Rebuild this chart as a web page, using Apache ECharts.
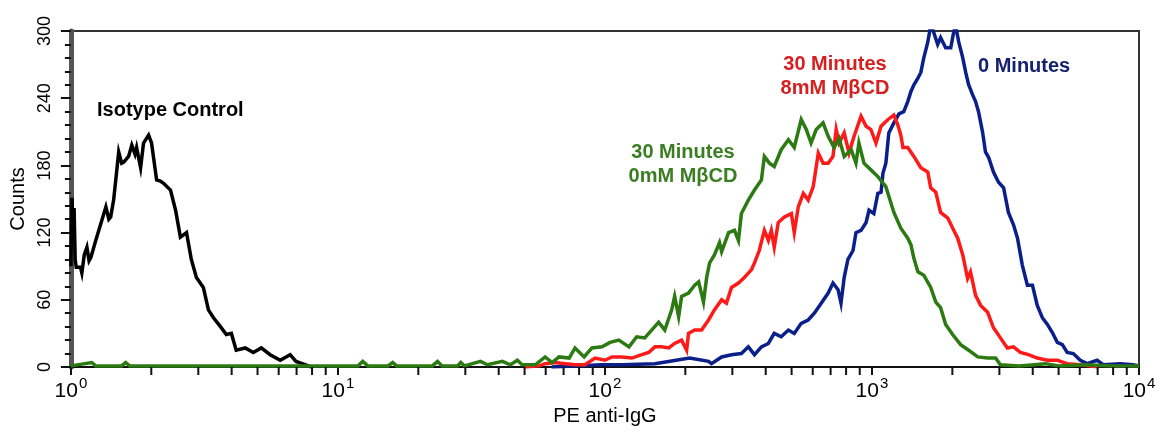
<!DOCTYPE html>
<html>
<head>
<meta charset="utf-8">
<script src="https://cdn.jsdelivr.net/npm/echarts@6/dist/echarts.min.js"></script>
<style>
html,body{margin:0;padding:0;background:#fff;}
#chart{width:1161px;height:433px;}
</style>
</head>
<body>
<div id="chart"></div>
<script>
// ---- Data (x stored as log10 of PE intensity, y as event counts) ----
const majorTicks = [1, 10, 100, 1000, 10000];
const minorMultipliers = [2, 3, 4, 5, 6, 7, 8, 9];
const yTicks = [0, 60, 120, 180, 240, 300];

const isoLog = [0.000,0.004,0.008,0.012,0.016,0.020,0.036,0.041,0.050,0.060,0.068,0.075,0.093,0.112,0.131,0.142,0.149,0.160,0.172,0.179,0.190,0.198,0.216,0.228,0.240,0.246,0.261,0.272,0.291,0.302,0.321,0.335,0.347,0.373,0.392,0.410,0.433,0.451,0.470,0.496,0.515,0.534,0.560,0.582,0.601,0.619,0.653,0.683,0.713,0.746,0.784,0.821,0.843,0.866,0.900];
const isoCounts = [90,151,118,142,96,89,89,84,100,107,95,98,113,128,143,132,134,149,176,192,182,183,188,198,190,196,178,200,207,200,167,166,164,158,140,116,120,96,80,71,51,44,36,29,30,15,17,13,17,11,6,11,5,3,0];

const min0Log = [1.800,1.989,2.063,2.187,2.317,2.388,2.399,2.437,2.474,2.511,2.537,2.560,2.586,2.612,2.634,2.660,2.687,2.709,2.735,2.761,2.784,2.810,2.836,2.854,2.873,2.884,2.896,2.910,2.929,2.940,2.959,2.978,2.989,3.007,3.022,3.034,3.041,3.052,3.063,3.082,3.101,3.119,3.134,3.146,3.157,3.172,3.183,3.194,3.209,3.220,3.231,3.246,3.257,3.276,3.295,3.306,3.313,3.325,3.340,3.351,3.362,3.377,3.388,3.399,3.414,3.425,3.437,3.455,3.474,3.493,3.511,3.530,3.545,3.563,3.582,3.601,3.619,3.638,3.657,3.675,3.694,3.713,3.731,3.754,3.780,3.806,3.843,3.866,3.929,3.978,4.000];
const min0Counts = [0,2,2,3,8,5,3,9,11,12,18,11,18,21,30,27,33,30,39,42,48,57,66,75,69,57,80,96,104,120,122,129,140,137,155,156,173,182,209,218,226,228,237,246,252,258,263,276,290,305,299,288,294,285,285,299,305,290,276,263,252,243,237,228,210,192,187,174,165,160,138,127,115,91,73,73,55,44,38,31,22,20,13,12,6,3,6,2,3,2,1];

const mbcd8Log = [1.700,1.754,1.776,1.813,1.851,1.888,1.925,1.963,2.000,2.026,2.063,2.101,2.138,2.164,2.187,2.213,2.239,2.261,2.287,2.306,2.313,2.336,2.362,2.388,2.410,2.437,2.455,2.474,2.500,2.522,2.549,2.560,2.578,2.597,2.612,2.623,2.634,2.649,2.672,2.698,2.709,2.724,2.743,2.761,2.780,2.799,2.817,2.836,2.854,2.866,2.877,2.896,2.914,2.933,2.959,2.978,2.996,3.015,3.034,3.060,3.082,3.097,3.108,3.116,3.134,3.157,3.183,3.209,3.220,3.239,3.257,3.284,3.302,3.321,3.340,3.358,3.369,3.388,3.407,3.433,3.455,3.481,3.507,3.530,3.556,3.586,3.619,3.657,3.694,3.731,3.780,3.850];
const mbcd8Counts = [0,1,3,4,3,2,2,8,6,9,9,8,11,13,18,18,17,21,24,15,30,33,33,42,51,60,57,71,75,80,87,93,104,122,113,122,107,129,134,137,120,143,155,149,161,191,182,182,188,212,200,209,191,206,224,215,212,200,215,221,225,216,207,196,196,188,178,174,160,156,138,133,124,115,100,79,85,64,55,49,35,26,17,18,13,11,8,6,6,3,2,0];

const mbcd0Log = [0.000,0.078,0.093,0.190,0.205,0.220,1.075,1.093,1.112,1.187,1.205,1.220,1.354,1.373,1.390,1.448,1.460,1.474,1.534,1.560,1.616,1.646,1.672,1.690,1.739,1.776,1.802,1.828,1.866,1.888,1.922,1.951,1.989,2.019,2.052,2.090,2.119,2.149,2.175,2.201,2.224,2.250,2.261,2.276,2.287,2.313,2.336,2.351,2.369,2.381,2.392,2.410,2.429,2.437,2.463,2.485,2.500,2.511,2.537,2.560,2.586,2.597,2.616,2.634,2.660,2.687,2.709,2.735,2.754,2.772,2.791,2.817,2.836,2.858,2.877,2.896,2.922,2.940,2.951,2.970,2.996,3.022,3.052,3.082,3.108,3.134,3.146,3.157,3.172,3.194,3.220,3.239,3.257,3.276,3.302,3.332,3.362,3.396,3.433,3.463,3.481,3.550,3.650,3.700,3.800,3.900,4.000];
const mbcd0Counts = [1,4,1,1,4,1,1,5,1,1,4,1,1,5,1,1,4,1,5,2,5,2,6,2,2,9,4,9,8,17,9,17,18,22,24,18,27,26,33,40,33,51,63,45,63,66,73,76,58,80,93,100,111,103,120,122,113,137,149,158,167,188,182,179,194,203,196,221,212,200,212,218,206,196,204,188,194,182,200,182,176,170,161,138,124,115,109,97,85,82,71,58,53,38,29,20,15,9,8,8,2,1,3,1,2,1,1];

const seriesNames = ['Isotype Control', '0 Minutes', '30 Minutes 8mM MβCD', '30 Minutes 0mM MβCD'];
const seriesColors = ['#000000', '#0b1f8a', '#ff1a1a', '#2c7a12'];

// ---- Build ----
function pairs(logs, counts) {
  const n = Math.min(logs.length, counts.length);
  const out = [];
  for (let i = 0; i < n; i++) out.push([Math.pow(10, logs[i]), counts[i]]);
  return out;
}
const minorVals = [];
for (let d = 0; d < majorTicks.length - 1; d++) {
  for (const k of minorMultipliers) minorVals.push([majorTicks[d] * k, 0]);
}
const FONT = '"Liberation Sans", Arial, sans-serif';

const chart = echarts.init(document.getElementById('chart'), null, {renderer: 'canvas'});
const lineSeries = [
  [isoLog, isoCounts], [min0Log, min0Counts], [mbcd8Log, mbcd8Counts], [mbcd0Log, mbcd0Counts]
].map((d, i) => ({
  name: seriesNames[i],
  type: 'line',
  data: pairs(d[0], d[1]),
  showSymbol: false,
  symbol: 'none',
  lineStyle: {color: seriesColors[i], width: 3.5, join: 'miter'},
  itemStyle: {color: seriesColors[i]},
  z: 3 + i,
  clip: true,
  animation: false
}));

const option = {
  animation: false,
  backgroundColor: '#ffffff',
  grid: {left: 67, right: 22, top: 31, bottom: 66, show: true, borderColor: '#333', borderWidth: 2, backgroundColor: '#fff', containLabel: false},
  xAxis: {
    type: 'log', logBase: 10, min: majorTicks[0], max: majorTicks[majorTicks.length - 1],
    name: 'PE anti-IgG', nameLocation: 'middle', nameGap: 39,
    nameTextStyle: {fontSize: 20, color: '#000', fontFamily: FONT},
    axisLine: {show: true, lineStyle: {color: '#111', width: 2}},
    axisTick: {show: true, length: 8, lineStyle: {color: '#111', width: 2}},
    minorTick: {show: false},
    splitLine: {show: false},
    axisLabel: {
      margin: 9, color: '#000', fontFamily: FONT,
      formatter: function (v) { return '{b|10}{s|' + Math.round(Math.log10(v)) + '}'; },
      rich: {
        b: {fontSize: 21, fontFamily: FONT, color: '#000', lineHeight: 26, verticalAlign: 'bottom'},
        s: {fontSize: 15, fontFamily: FONT, color: '#000', lineHeight: 26, verticalAlign: 'top', padding: [0, 0, 0, 1]}
      }
    }
  },
  yAxis: {
    type: 'value', min: yTicks[0], max: yTicks[yTicks.length - 1], interval: yTicks[1] - yTicks[0],
    name: 'Counts', nameLocation: 'middle', nameGap: 37, nameRotate: 90,
    nameTextStyle: {fontSize: 20, color: '#000', fontFamily: FONT},
    axisLine: {show: true, lineStyle: {color: '#555', width: 5}},
    axisTick: {show: true, length: 10, lineStyle: {color: '#111', width: 2}},
    minorTick: {show: true, splitNumber: 5, length: 6, lineStyle: {color: '#111', width: 2}},
    splitLine: {show: false},
    axisLabel: {rotate: 90, margin: 17, fontSize: 18, color: '#000', fontFamily: FONT}
  },
  series: [
    ...lineSeries,
    {
      type: 'custom', silent: true, clip: false, z: 10,
      data: minorVals,
      renderItem: function (params, api) {
        const p = api.coord([api.value(0), 0]);
        return {type: 'line', shape: {x1: p[0], y1: p[1], x2: p[0], y2: p[1] + 8}, style: {stroke: '#111', lineWidth: 2}};
      }
    }
  ],
  graphic: [
    {type: 'text', x: 97, y: 110, z: 100, style: {text: 'Isotype Control', fill: '#000', font: 'bold 20px ' + FONT, align: 'left', verticalAlign: 'middle'}},
    {type: 'text', x: 835, y: 76, z: 100, style: {text: '30 Minutes\n8mM MβCD', fill: '#d42020', font: 'bold 20px ' + FONT, lineHeight: 24, align: 'center', verticalAlign: 'middle'}},
    {type: 'text', x: 978, y: 66, z: 100, style: {text: '0 Minutes', fill: '#14216e', font: 'bold 20px ' + FONT, align: 'left', verticalAlign: 'middle'}},
    {type: 'text', x: 683, y: 164, z: 100, style: {text: '30 Minutes\n0mM MβCD', fill: '#3b7d23', font: 'bold 20px ' + FONT, lineHeight: 24, align: 'center', verticalAlign: 'middle'}}
  ]
};
chart.setOption(option);
</script>
</body>
</html>
